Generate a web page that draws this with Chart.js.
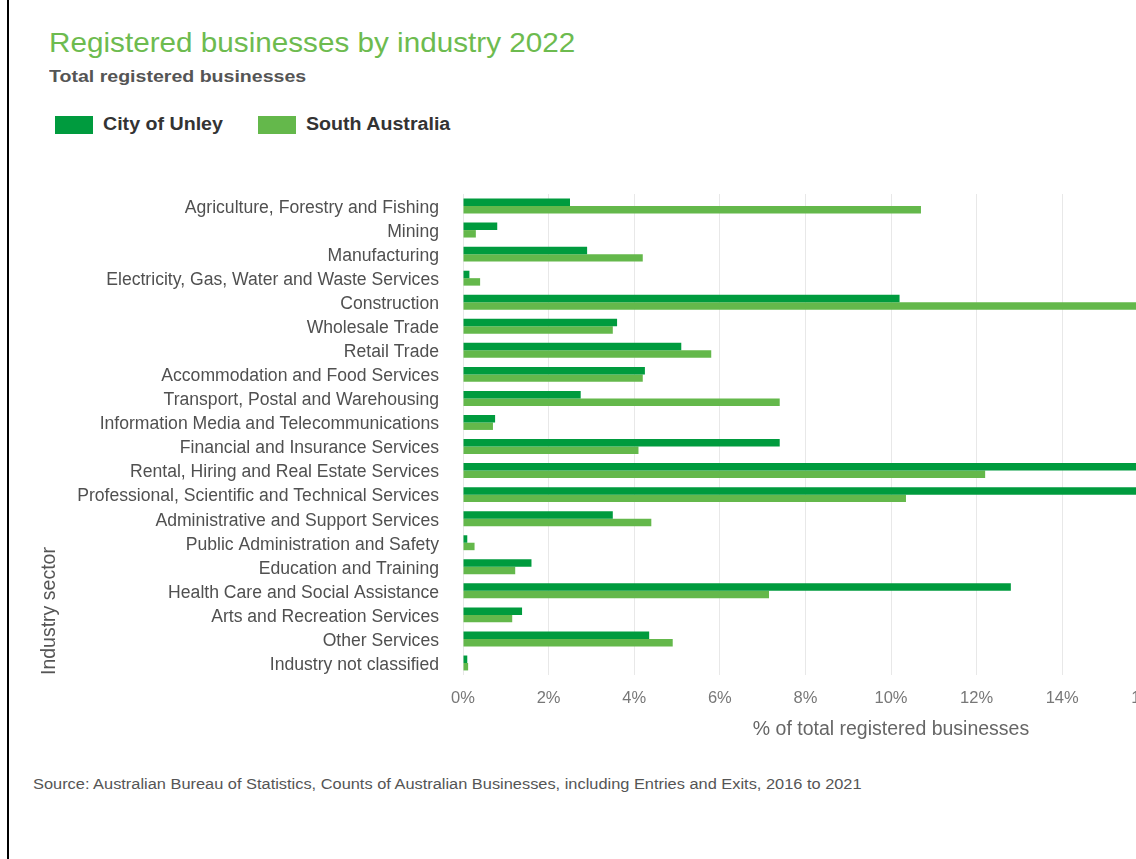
<!DOCTYPE html>
<html>
<head>
<meta charset="utf-8">
<script src="https://cdn.jsdelivr.net/npm/chart.js@4/dist/chart.umd.min.js"></script>
<style>
  html, body { margin: 0; padding: 0; background: #ffffff; }
  body { width: 1136px; height: 859px; overflow: hidden; position: relative;
         font-family: "Liberation Sans", Arial, sans-serif; }
  .frame { position: absolute; left: 7px; top: 0; width: 2px; height: 859px; background: #000; z-index: 3; }
  .wide { transform-origin: 0 50%; display: inline-block; white-space: nowrap; }
  .title { position: absolute; left: 49px; top: 27px; font-size: 28px; color: #6dbb4f; z-index: 2; }
  .title .wide { transform: scaleX(1.06); }
  .subtitle { position: absolute; left: 49px; top: 67px; font-size: 17px; font-weight: bold; color: #555555; z-index: 2; }
  .subtitle .wide { transform: scaleX(1.15); }
  .legend { position: absolute; top: 114px; left: 55px; z-index: 2;
            font-size: 18px; font-weight: bold; color: #333333; }
  .legend .item { position: absolute; top: 0; display: flex; align-items: center; white-space: nowrap; }
  .legend .sw { display: inline-block; width: 38px; height: 18px; margin-right: 10px; }
  .legend .lbl { display: inline-block; transform: scaleX(1.09); transform-origin: 0 50%; }
  .source { position: absolute; left: 33px; top: 776px; font-size: 14px; color: #555555; z-index: 2; }
  .source .wide { transform: scaleX(1.17); }
  #chart { position: absolute; left: 0; top: 150px; z-index: 1; }
</style>
</head>
<body>
<div class="frame"></div>
<div class="title"><span class="wide">Registered businesses by industry 2022</span></div>
<div class="subtitle"><span class="wide">Total registered businesses</span></div>
<div class="legend" id="legend"></div>
<div class="source"><span class="wide">Source: Australian Bureau of Statistics, Counts of Australian Businesses, including Entries and Exits, 2016 to 2021</span></div>
<canvas id="chart" width="1360" height="610"></canvas>
<script>
// Industry sectors (ANZSIC divisions)
const industries = [
  "Agriculture, Forestry and Fishing",
  "Mining",
  "Manufacturing",
  "Electricity, Gas, Water and Waste Services",
  "Construction",
  "Wholesale Trade",
  "Retail Trade",
  "Accommodation and Food Services",
  "Transport, Postal and Warehousing",
  "Information Media and Telecommunications",
  "Financial and Insurance Services",
  "Rental, Hiring and Real Estate Services",
  "Professional, Scientific and Technical Services",
  "Administrative and Support Services",
  "Public Administration and Safety",
  "Education and Training",
  "Health Care and Social Assistance",
  "Arts and Recreation Services",
  "Other Services",
  "Industry not classified"
];

// Share of total registered businesses (%)
const unleyShare = [2.5, 0.8, 2.9, 0.15, 10.2, 3.6, 5.1, 4.25, 2.75, 0.75, 7.4, 16.6, 17.4, 3.5, 0.1, 1.6, 12.8, 1.38, 4.35, 0.1];
const saShare    = [10.7, 0.3, 4.2, 0.4, 16.3, 3.5, 5.8, 4.2, 7.4, 0.7, 4.1, 12.2, 10.35, 4.4, 0.27, 1.22, 7.15, 1.15, 4.9, 0.12];

const seriesNames = ["City of Unley", "South Australia"];
const seriesColors = ["#009b3e", "#64b84b"];
const legendLeft = [0, 203];

// x-axis range in percent
const xMin = 0, xMax = 20, xStep = 2;

// HTML legend
const legendEl = document.getElementById('legend');
seriesNames.forEach((name, i) => {
  const item = document.createElement('div');
  item.className = 'item';
  item.style.left = legendLeft[i] + 'px';
  const sw = document.createElement('span');
  sw.className = 'sw';
  sw.style.background = seriesColors[i];
  const lbl = document.createElement('span');
  lbl.className = 'lbl';
  lbl.textContent = name;
  item.appendChild(sw);
  item.appendChild(lbl);
  legendEl.appendChild(item);
});

const ctx = document.getElementById('chart').getContext('2d');
new Chart(ctx, {
  type: 'bar',
  data: {
    labels: industries,
    datasets: [
      { label: seriesNames[0], data: unleyShare, backgroundColor: seriesColors[0],
        categoryPercentage: 0.62, barPercentage: 1.0 },
      { label: seriesNames[1], data: saShare, backgroundColor: seriesColors[1],
        categoryPercentage: 0.62, barPercentage: 1.0 }
    ]
  },
  options: {
    indexAxis: 'y',
    responsive: false,
    animation: false,
    devicePixelRatio: 1,
    layout: { padding: { left: 0, right: 41, top: 44, bottom: 0 } },
    plugins: {
      legend: { display: false },
      title: { display: false },
      tooltip: { enabled: false }
    },
    scales: {
      x: {
        min: xMin, max: xMax,
        grid: { color: '#e8e8e8', drawTicks: false, lineWidth: 1 },
        border: { display: false },
        ticks: {
          stepSize: xStep,
          padding: 14,
          color: '#777777',
          font: { family: 'Liberation Sans', size: 16.5 },
          callback: v => v + '%'
        },
        title: {
          display: true,
          text: '% of total registered businesses',
          color: '#666666',
          font: { family: 'Liberation Sans', size: 19.5 },
          padding: { top: 0, bottom: 19 }
        },
        afterFit: s => { s.height = 85; }
      },
      y: {
        grid: { display: false, drawTicks: false },
        border: { display: false },
        ticks: {
          padding: 24,
          labelOffset: 2,
          color: '#505050',
          autoSkip: false,
          font: { family: 'Liberation Sans', size: 17.6 }
        },
        title: {
          display: true,
          text: 'Industry sector',
          align: 'start',
          color: '#555555',
          font: { family: 'Liberation Sans', size: 19.5 },
          padding: { top: 38, bottom: 0 }
        },
        afterFit: s => { s.width = 463; }
      }
    }
  }
});
</script>
</body>
</html>
